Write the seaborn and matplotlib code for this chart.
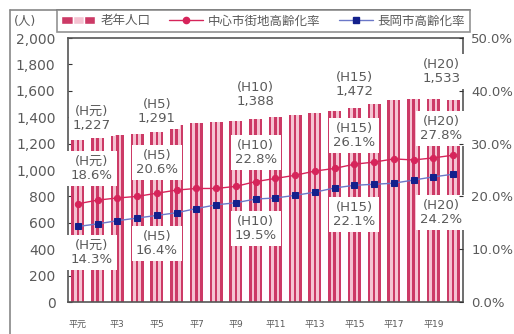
import pandas as pd
import seaborn as sns
import matplotlib.pyplot as plt
from matplotlib.patches import Patch
from matplotlib.lines import Line2D
from matplotlib.legend_handler import HandlerTuple

# Datos
years = ['平元', '平2', '平3', '平4', '平5', '平6', '平7', '平8', '平9', '平10',
         '平11', '平12', '平13', '平14', '平15', '平16', '平17', '平18', '平19', '平20']
elderly = [1227, 1240, 1262, 1275, 1291, 1340, 1355, 1365, 1375, 1388,
           1400, 1420, 1430, 1450, 1472, 1500, 1530, 1535, 1535, 1533]
center_rate = [18.6, 19.3, 19.7, 20.0, 20.6, 21.2, 21.5, 21.5, 21.9, 22.8,
               23.4, 24.0, 24.8, 25.3, 26.1, 26.5, 27.1, 26.9, 27.3, 27.8]
city_rate = [14.3, 14.8, 15.4, 15.9, 16.4, 16.9, 17.7, 18.4, 18.8, 19.5,
             19.7, 20.2, 20.8, 21.6, 22.1, 22.3, 22.5, 23.1, 23.7, 24.2]
tick_labels = ['平元', '平3', '平5', '平7', '平9', '平11', '平13', '平15', '平17', '平19']

# etiquetas de los años marcados
mark_idx = [0, 4, 9, 14, 19]
mark_names = ['H元', 'H5', 'H10', 'H15', 'H20']
label_x = [0.7, 4.0, 9.0, 14.0, 18.4]
pop_label_y = [1392, 1445, 1574, 1650, 1749]
center_label_y = [1011, 1057, 1133, 1262, 1316]
city_label_y = [373, 441, 555, 662, 677]

dark = '#cc3a66'
light = '#f5c3d2'
pink = '#d6245a'
navy = '#13208c'
blue_line = '#6b78c8'
gray = '#5a5a5a'

sns.set_style('white')
plt.rcParams['font.family'] = ['DejaVu Sans', 'Noto Sans CJK JP']

# barras a rayas: cada barra se dibuja como 5 franjas
stripes = ['a', 'b', 'c', 'd', 'e']
df = pd.DataFrame({
    'year': [y for y in years for s in stripes],
    'pop': [p for p in elderly for s in stripes],
    'stripe': stripes * len(years),
})

fig = plt.figure(figsize=(5.14, 3.34), dpi=100)
ax1 = fig.add_axes([68 / 514, 1 - 302 / 334, 395 / 514, 264 / 334])

sns.barplot(data=df, x='year', y='pop', hue='stripe', order=years,
            palette=[dark, light, dark, light, dark], width=0.66, dodge=True,
            gap=0, saturation=1, errorbar=None, legend=False, ax=ax1)
for p in ax1.patches:
    p.set_linewidth(0)

ax1.set_ylim(0, 2000)
ax1.set_xlim(-0.5, len(years) - 0.5)
ax1.set_yticks(range(0, 2001, 200))
ax1.set_yticklabels([f'{v:,}' for v in range(0, 2001, 200)])
ax1.set_xticks(range(0, len(years), 2))
ax1.set_xticklabels(tick_labels, fontsize=6.5, color=gray)
ax1.set_xticks([i + 0.5 for i in range(len(years) - 1)], minor=True)
ax1.tick_params(axis='x', which='major', length=0, pad=13)
ax1.tick_params(axis='x', which='minor', direction='in', length=2, color='#333')
ax1.tick_params(axis='y', direction='in', length=3, pad=9, labelsize=10,
                labelcolor=gray, color='#333', left=True)
ax1.set_xlabel('')
ax1.set_ylabel('')
for s in ax1.spines.values():
    s.set_color('#555')
    s.set_linewidth(1.2)

box = dict(boxstyle='square,pad=0.3', facecolor='white', edgecolor='none')
for k, i in enumerate(mark_idx):
    ax1.text(label_x[k], pop_label_y[k], f'({mark_names[k]})\n{elderly[i]:,}',
             ha='center', va='center', fontsize=9.5, color=gray, bbox=box,
             zorder=5, linespacing=1.1)
    ax1.text(label_x[k], center_label_y[k], f'({mark_names[k]})\n{center_rate[i]:.1f}%',
             ha='center', va='center', fontsize=9.5, color=gray, bbox=box,
             zorder=5, linespacing=1.1)
    ax1.text(label_x[k], city_label_y[k], f'({mark_names[k]})\n{city_rate[i]:.1f}%',
             ha='center', va='center', fontsize=9.5, color=gray, bbox=box,
             zorder=5, linespacing=1.1)

# lineas de tasa de envejecimiento
ax2 = ax1.twinx()
xpos = list(range(len(years)))
sns.lineplot(x=xpos, y=center_rate, color=pink, marker='o', markersize=4.5,
             markeredgecolor=pink, linewidth=1, ax=ax2)
sns.lineplot(x=xpos, y=city_rate, color=blue_line, marker='s', markersize=5,
             markerfacecolor=navy, markeredgecolor=navy, linewidth=1, ax=ax2)
ax2.set_ylim(0, 50)
ax2.set_yticks(range(0, 51, 10))
ax2.set_yticklabels([f'{v:.1f}%' for v in range(0, 51, 10)])
ax2.tick_params(axis='y', direction='in', length=3, pad=6, labelsize=9.5,
                labelcolor=gray, color='#333', right=True)
ax2.set_xlim(-0.5, len(years) - 0.5)
for s in ax2.spines.values():
    s.set_visible(False)

# leyenda
handles = [
    (Patch(facecolor=dark), Patch(facecolor=light), Patch(facecolor=dark)),
    Line2D([], [], color=pink, marker='o', markersize=4.5, linewidth=1),
    Line2D([], [], color=blue_line, marker='s', markersize=5,
           markerfacecolor=navy, markeredgecolor=navy, linewidth=1),
]
labels = ['老年人口', '中心市街地高齢化率', '長岡市高齢化率']
leg = fig.legend(handles, labels, loc='upper left',
                 bbox_to_anchor=(57 / 514, 1 - 10 / 334), ncol=3,
                 frameon=True, fancybox=False, edgecolor='#777', fontsize=9,
                 handlelength=2.7, columnspacing=1.5, handletextpad=0.4,
                 borderpad=0.35, borderaxespad=0,
                 handler_map={tuple: HandlerTuple(ndivide=None, pad=0)})
for t in leg.get_texts():
    t.set_color(gray)
leg.get_frame().set_linewidth(1.2)

fig.text(14 / 514, 1 - 21 / 334, '(人)', fontsize=9, color=gray, va='center')

# marco exterior
fig.add_artist(Line2D([10 / 514, 470 / 514], [1 - 10 / 334, 1 - 10 / 334],
                      color='#888', linewidth=1.2))
fig.add_artist(Line2D([10 / 514, 10 / 514], [0, 1 - 10 / 334],
                      color='#888', linewidth=1.2))

fig.savefig('out.png', dpi=100)
